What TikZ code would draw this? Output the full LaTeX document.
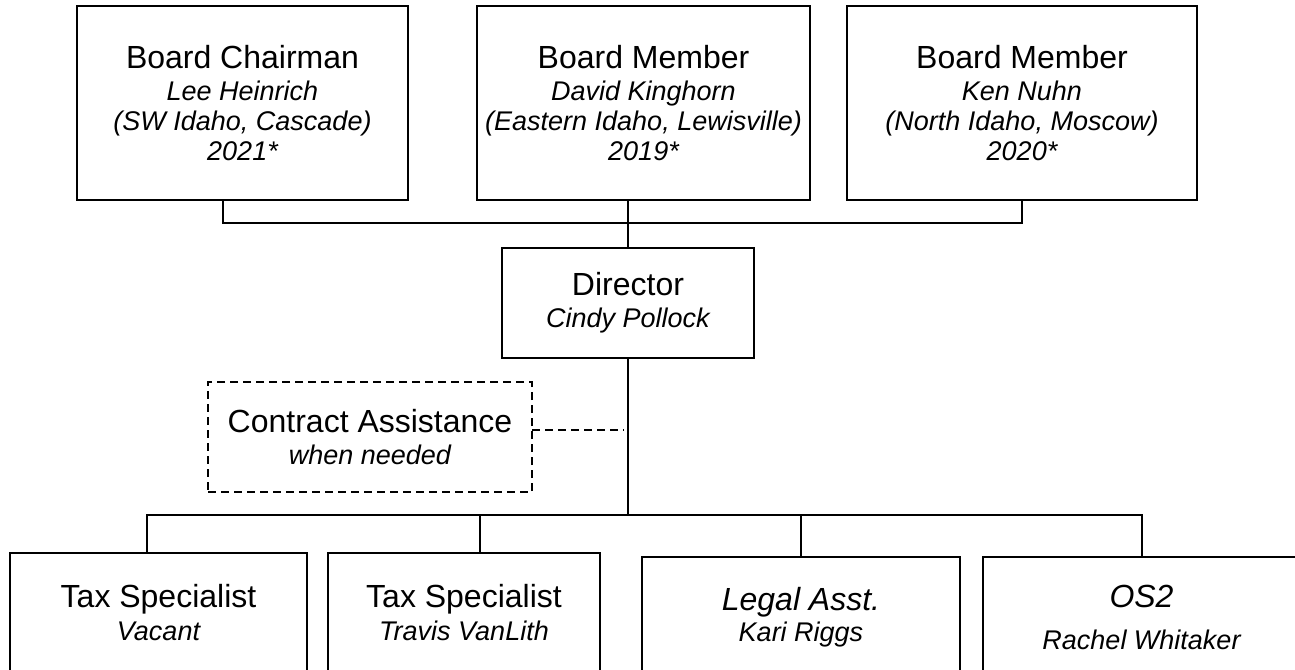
\documentclass[tikz,border=0pt]{standalone}
\usepackage{fontspec}
\setmainfont{Liberation Sans}
\usetikzlibrary{positioning}
\tikzstyle{post}=[rectangle,draw=black,line width=1pt,inner sep=2pt,outer sep=0pt,align=center,font=\fontsize{16}{15}\selectfont]
\newcommand{\who}[1]{{\fontsize{13.5}{15}\selectfont\itshape #1}}

\begin{document}
\begin{tikzpicture}[line width=1pt]
    \useasboundingbox (0,0) rectangle (647.5pt,-334.5pt);

    \node[post, minimum width=165.5pt, minimum height=97pt](chair) at (121.25pt,-51.5pt){Board Chairman\\[1pt]\who{Lee Heinrich}\\\who{(SW Idaho, Cascade)}\\\who{2021*}};
    \node[post, minimum width=166.5pt, minimum height=97pt](member1)[right=34.5pt of chair]{Board Member\\[1pt]\who{David Kinghorn}\\\who{(Eastern Idaho, Lewisville)}\\\who{2019*}};
    \node[post, minimum width=175pt, minimum height=97pt](member2)[right=18.5pt of member1]{Board Member\\[1pt]\who{Ken Nuhn}\\\who{(North Idaho, Moscow)}\\\who{2020*}};

    \node[post, minimum width=126pt, minimum height=55pt](director)[below=24pt of member1, xshift=-7.75pt]{Director\\[1pt]\who{Cindy Pollock}};

    \node[post, dash pattern=on 4pt off 2.5pt, minimum width=162pt, minimum height=55pt](contract)[below left=12pt and -15pt of director.south west]{Contract Assistance\\[1pt]\who{when needed}};

    \node[post, minimum width=148.5pt, minimum height=60pt, anchor=north west](tax1) at (5pt,-276.5pt){Tax Specialist\\[1.5pt]\who{Vacant}};
    \node[post, minimum width=136pt, minimum height=60pt](tax2)[right=10.5pt of tax1]{Tax Specialist\\[1.5pt]\who{Travis VanLith}};
    \node[post, minimum width=159pt, minimum height=60pt](legal)[right=21pt of tax2, yshift=-2pt]{\textit{Legal Asst.}\\[0.5pt]\who{Kari Riggs}};
    \node[post, minimum width=158.5pt, minimum height=60pt](os2)[right=11.5pt of legal]{\textit{OS2}\\[6pt]\who{Rachel Whitaker}};

    \draw ([xshift=-10pt]chair.south) -- ++(0,-11.5pt) -| (member2.south);
    \draw (member1.south -| director.north) -- (director.north);
    \draw (director.south) -- ++(0,-78.5pt) coordinate (staff);
    \draw ([xshift=-5.75pt]tax1.north) |- (staff) -| (os2.north);
    \draw ([xshift=8pt]tax2.north) -- ([xshift=8pt]tax2.north |- staff);
    \draw (legal.north) -- (legal.north |- staff);
    \draw[dash pattern=on 4pt off 2.5pt] ([yshift=3.5pt]contract.east) -- ++(46pt,0);
\end{tikzpicture}
\end{document}
